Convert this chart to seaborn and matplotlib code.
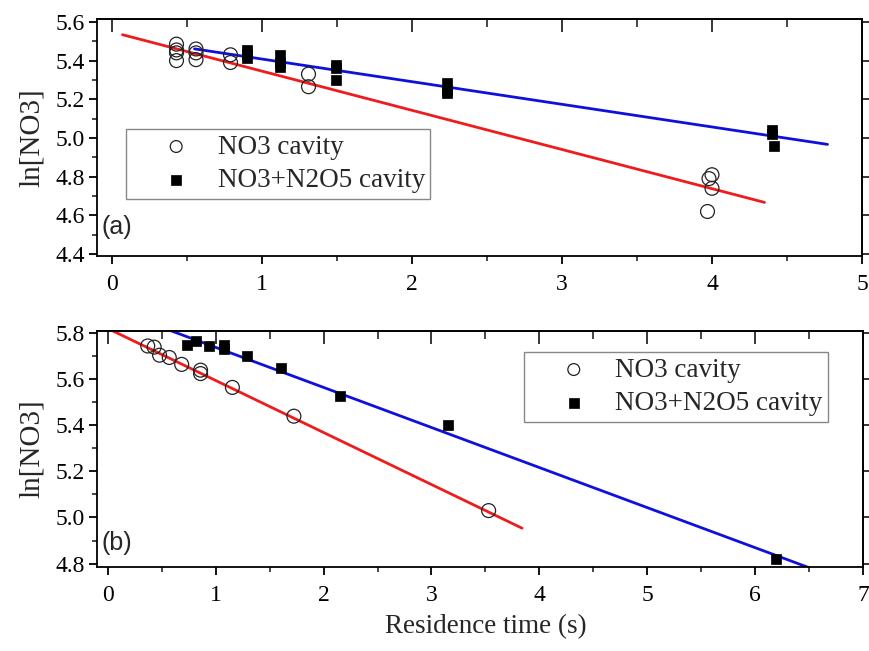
import numpy as np
import pandas as pd
import matplotlib
matplotlib.use("Agg")
import matplotlib.pyplot as plt
from matplotlib.ticker import MultipleLocator
import seaborn as sns

# ---------------- data ----------------
# panel (a)
a_no3_x = [0.43, 0.43, 0.43, 0.43, 0.56, 0.56, 0.56, 0.79, 0.79, 1.31, 1.31,
           4.00, 3.98, 4.00, 3.97]
a_no3_y = [5.485, 5.455, 5.44, 5.40, 5.46, 5.44, 5.405, 5.43, 5.39, 5.33, 5.265,
           4.81, 4.79, 4.74, 4.62]
a_tot_x = [0.90, 0.90, 0.90, 1.12, 1.12, 1.12, 1.49, 1.49, 1.49, 2.23, 2.23, 2.23,
           4.40, 4.40, 4.41]
a_tot_y = [5.455, 5.435, 5.415, 5.43, 5.39, 5.365, 5.375, 5.36, 5.30, 5.285, 5.25, 5.235,
           5.04, 5.02, 4.96]
# fit lines: [intercept, slope], x-range
a_fit_no3 = [5.548, -0.2025]
a_fit_no3_range = [0.07, 4.35]
a_fit_tot = [5.525, -0.117]
a_fit_tot_range = [0.55, 4.77]

# panel (b)
b_no3_x = [0.37, 0.43, 0.48, 0.57, 0.685, 0.86, 0.86, 1.155, 1.725, 3.53]
b_no3_y = [5.745, 5.74, 5.705, 5.695, 5.665, 5.64, 5.625, 5.565, 5.44, 5.03]
b_tot_x = [0.73, 0.82, 0.935, 1.08, 1.08, 1.29, 1.61, 2.15, 3.157, 6.19]
b_tot_y = [5.75, 5.768, 5.745, 5.748, 5.73, 5.70, 5.648, 5.528, 5.40, 4.82]
b_fit_no3 = [5.821, -0.2259]
b_fit_no3_range = [0.0, 3.84]
b_fit_tot = [5.913, -0.174]
b_fit_tot_range = [0.3, 6.7]

label_no3 = "NO3 cavity"
label_tot = "NO3+N2O5 cavity"
ylabel = "ln[NO3]"
xlabel = "Residence time (s)"

# ---------------- style ----------------
sns.set_style("ticks")
plt.rcParams['font.family'] = ['Liberation Serif', 'DejaVu Serif']
plt.rcParams['axes.linewidth'] = 1.3

fig = plt.figure(figsize=(8.69, 6.51), dpi=100)
W, H = 869, 651
ax1 = fig.add_axes([97 / W, 1 - 256 / H, (862 - 97) / W, (256 - 19) / H])
ax2 = fig.add_axes([97 / W, 1 - 567 / H, (863 - 97) / W, (567 - 331) / H])


def draw(ax, nx, ny, tx, ty, fn, fnr, ft, ftr, xlim, ylim, leg_loc, panel, panel_y):
    df_n = pd.DataFrame({"x": nx, "y": ny})
    df_t = pd.DataFrame({"x": tx, "y": ty})
    xs_n = np.array(fnr)
    xs_t = np.array(ftr)
    df_fn = pd.DataFrame({"x": xs_n, "y": fn[0] + fn[1] * xs_n})
    df_ft = pd.DataFrame({"x": xs_t, "y": ft[0] + ft[1] * xs_t})
    sns.lineplot(data=df_fn, x="x", y="y", ax=ax, color="#ee1c1c", lw=2.0,
                 legend=False, zorder=2)
    sns.lineplot(data=df_ft, x="x", y="y", ax=ax, color="#1010dd", lw=2.0,
                 legend=False, zorder=2)
    sns.scatterplot(data=df_n, x="x", y="y", ax=ax, marker="o", s=100,
                    facecolor="none", edgecolor="#222222", linewidth=0.9,
                    label=label_no3, zorder=3)
    sns.scatterplot(data=df_t, x="x", y="y", ax=ax, marker="s", s=62,
                    color="black", edgecolor="black", linewidth=0.5,
                    label=label_tot, zorder=3)
    ax.set_xlim(*xlim)
    ax.set_ylim(*ylim)
    ax.set_xlabel("")
    ax.set_ylabel(ylabel, fontsize=21)
    ax.yaxis.set_label_coords(-0.068, 0.5)
    ax.xaxis.set_major_locator(MultipleLocator(1))
    ax.xaxis.set_minor_locator(MultipleLocator(0.5))
    ax.yaxis.set_major_locator(MultipleLocator(0.2))
    ax.yaxis.set_minor_locator(MultipleLocator(0.1))
    ax.yaxis.set_major_formatter(matplotlib.ticker.FormatStrFormatter('%.1f'))
    ax.tick_params(axis='both', which='major', direction='out', length=6,
                   width=1.3, labelsize=17, colors='black')
    ax.tick_params(axis='both', which='minor', direction='out', length=3.5,
                   width=1.2)
    ax.tick_params(axis='x', pad=7)
    ax.tick_params(axis='y', pad=3)
    # top ticks inside, right ticks outside
    top = ax.secondary_xaxis('top')
    top.xaxis.set_major_locator(MultipleLocator(1))
    top.xaxis.set_minor_locator(MultipleLocator(0.5))
    top.tick_params(which='major', direction='in', length=9, width=1.3, labeltop=False)
    top.tick_params(which='minor', direction='in', length=5.5, width=1.2)
    right = ax.secondary_yaxis('right')
    right.yaxis.set_major_locator(MultipleLocator(0.2))
    right.tick_params(which='major', direction='out', length=5, width=1.3, labelright=False)
    right.yaxis.set_minor_locator(matplotlib.ticker.NullLocator())
    for s in ax.spines.values():
        s.set_visible(True)
        s.set_color('black')
    leg = ax.legend(loc='upper left', bbox_to_anchor=leg_loc, frameon=True,
                    fancybox=False, framealpha=1, edgecolor='#888888',
                    fontsize=19.5, handletextpad=-0.12, borderpad=0.2,
                    labelspacing=0.32, handlelength=3.3, borderaxespad=0,
                    markerscale=0.85)
    leg.get_frame().set_linewidth(1.0)
    ax.text(0.006, panel_y, panel, transform=ax.transAxes, fontsize=18,
            family='Liberation Sans', ha='left', va='bottom')


draw(ax1, a_no3_x, a_no3_y, a_tot_x, a_tot_y, a_fit_no3, a_fit_no3_range,
     a_fit_tot, a_fit_tot_range, (-0.1, 5.0), (4.39, 5.615), (0.038, 0.535), "(a)", 0.07)
draw(ax2, b_no3_x, b_no3_y, b_tot_x, b_tot_y, b_fit_no3, b_fit_no3_range,
     b_fit_tot, b_fit_tot_range, (-0.1, 7.0), (4.785, 5.81), (0.557, 0.91), "(b)", 0.052)
ax2.set_xlabel(xlabel, fontsize=19.5, labelpad=4)
ax2.xaxis.set_label_coords(0.508, -0.2)

fig.savefig("out.png", dpi=100)
